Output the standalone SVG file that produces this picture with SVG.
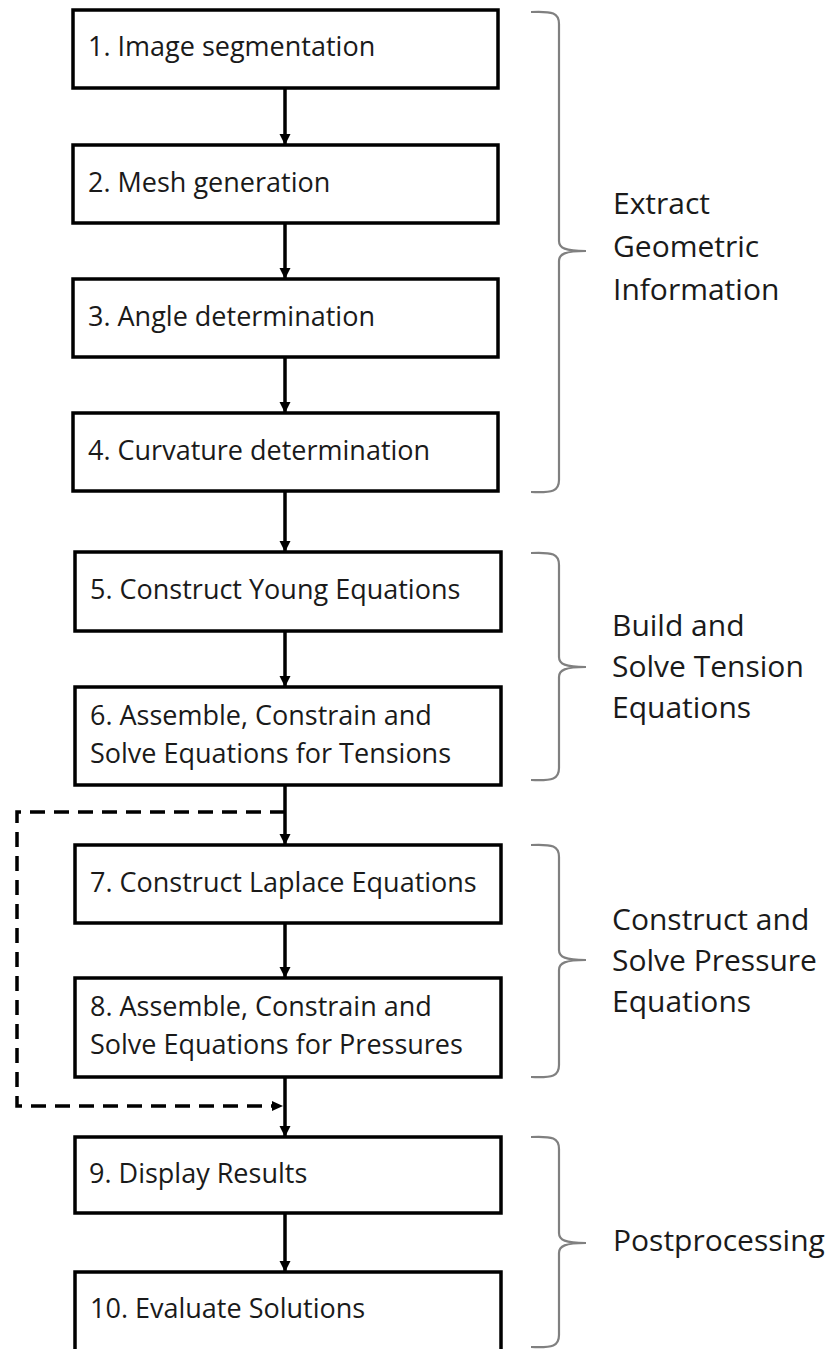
<svg xmlns="http://www.w3.org/2000/svg" width="833" height="1349" viewBox="0 0 833 1349">
<style>
.box{fill:#fff;stroke:#000;stroke-width:3.5}
.t{font-family:"Open Sans","Liberation Sans",sans-serif;font-size:27px;fill:#1a1a1a}
.lbl{font-family:"Open Sans","Liberation Sans",sans-serif;font-size:30px;fill:#1a1a1a}
.ar{stroke:#000;stroke-width:3.5;fill:none;marker-end:url(#ah)}
.da{stroke:#000;stroke-width:3.5;fill:none;stroke-dasharray:15 9}
.br{stroke:#808080;stroke-width:2.2;fill:none}
</style>
<defs>
<marker id="ah" markerUnits="userSpaceOnUse" markerWidth="12" markerHeight="12" refX="11" refY="6" orient="auto">
<path d="M0,0.5 L11,6 L0,11.5 z" fill="#000"/>
</marker>
</defs>
<rect width="833" height="1349" fill="#fff"/>
<g id="connectors">
<line class="ar" x1="285" y1="88" x2="285" y2="145"/>
<line class="ar" x1="285" y1="223" x2="285" y2="279"/>
<line class="ar" x1="285" y1="357" x2="285" y2="413"/>
<line class="ar" x1="285" y1="491" x2="285" y2="552"/>
<line class="ar" x1="285" y1="631" x2="285" y2="687"/>
<line class="ar" x1="285" y1="785" x2="285" y2="845"/>
<line class="ar" x1="285" y1="923" x2="285" y2="978"/>
<line class="ar" x1="285" y1="1077" x2="285" y2="1137"/>
<line class="ar" x1="285" y1="1213" x2="285" y2="1272"/>
<path class="da" d="M285,812 H17 V1106 H272"/>
<path d="M272,1101 L283,1106 L272,1111 z" fill="#000"/>
</g>
<g id="node1"><rect class="box" x="73" y="10" width="425" height="78"/><text class="t" x="88" y="56">1. Image segmentation</text></g>
<g id="node2"><rect class="box" x="73" y="145" width="425" height="78"/><text class="t" x="88" y="192">2. Mesh generation</text></g>
<g id="node3"><rect class="box" x="73" y="279" width="425" height="78"/><text class="t" x="88" y="326">3. Angle determination</text></g>
<g id="node4"><rect class="box" x="73" y="413" width="425" height="78"/><text class="t" x="88" y="460">4. Curvature  determination</text></g>
<g id="node5"><rect class="box" x="75" y="552" width="426" height="79"/><text class="t" x="90" y="599">5. Construct  Young Equations</text></g>
<g id="node6"><rect class="box" x="75" y="687" width="426" height="98"/><text class="t" x="90" y="725">6. Assemble, Constrain  and</text><text class="t" x="90" y="763">Solve Equations for Tensions</text></g>
<g id="node7"><rect class="box" x="75" y="845" width="426" height="78"/><text class="t" x="90" y="892">7. Construct Laplace Equations</text></g>
<g id="node8"><rect class="box" x="75" y="978" width="426" height="99"/><text class="t" x="90" y="1016">8. Assemble, Constrain  and</text><text class="t" x="90" y="1054">Solve Equations for Pressures</text></g>
<g id="node9"><rect class="box" x="75" y="1137" width="426" height="76"/><text class="t" x="89" y="1183">9. Display Results</text></g>
<g id="node10"><rect class="box" x="75" y="1272" width="426" height="80"/><text class="t" x="90" y="1318">10. Evaluate Solutions</text></g>
<g id="brace1"><path class="br" d="M531,12 C553,11 559,13 559,24 L559,241 C559,248 565,251 586,251 C565,251 559,254 559,261 L559,480 C559,491 553,493 531,492"/>
<text class="lbl" x="613" y="214">Extract</text><text class="lbl" x="613" y="257">Geometric</text><text class="lbl" x="613" y="300">Information</text></g>
<g id="brace2"><path class="br" d="M531,553 C553,552 559,554 559,565 L559,657 C559,664 565,667 586,667 C565,667 559,670 559,677 L559,768 C559,779 553,781 531,780"/>
<text class="lbl" x="612" y="636">Build and</text><text class="lbl" x="612" y="677">Solve Tension</text><text class="lbl" x="612" y="718">Equations</text></g>
<g id="brace3"><path class="br" d="M531,845 C553,844 559,846 559,857 L559,950 C559,957 565,960 586,960 C565,960 559,963 559,970 L559,1065 C559,1076 553,1078 531,1077"/>
<text class="lbl" x="612" y="930">Construct and</text><text class="lbl" x="612" y="971">Solve Pressure</text><text class="lbl" x="612" y="1012">Equations</text></g>
<g id="brace4"><path class="br" d="M531,1137 C553,1136 559,1138 559,1149 L559,1233 C559,1240 565,1243 586,1243 C565,1243 559,1246 559,1253 L559,1335 C559,1346 553,1348 531,1347"/>
<text class="lbl" x="613" y="1251">Postprocessing</text></g>
</svg>
